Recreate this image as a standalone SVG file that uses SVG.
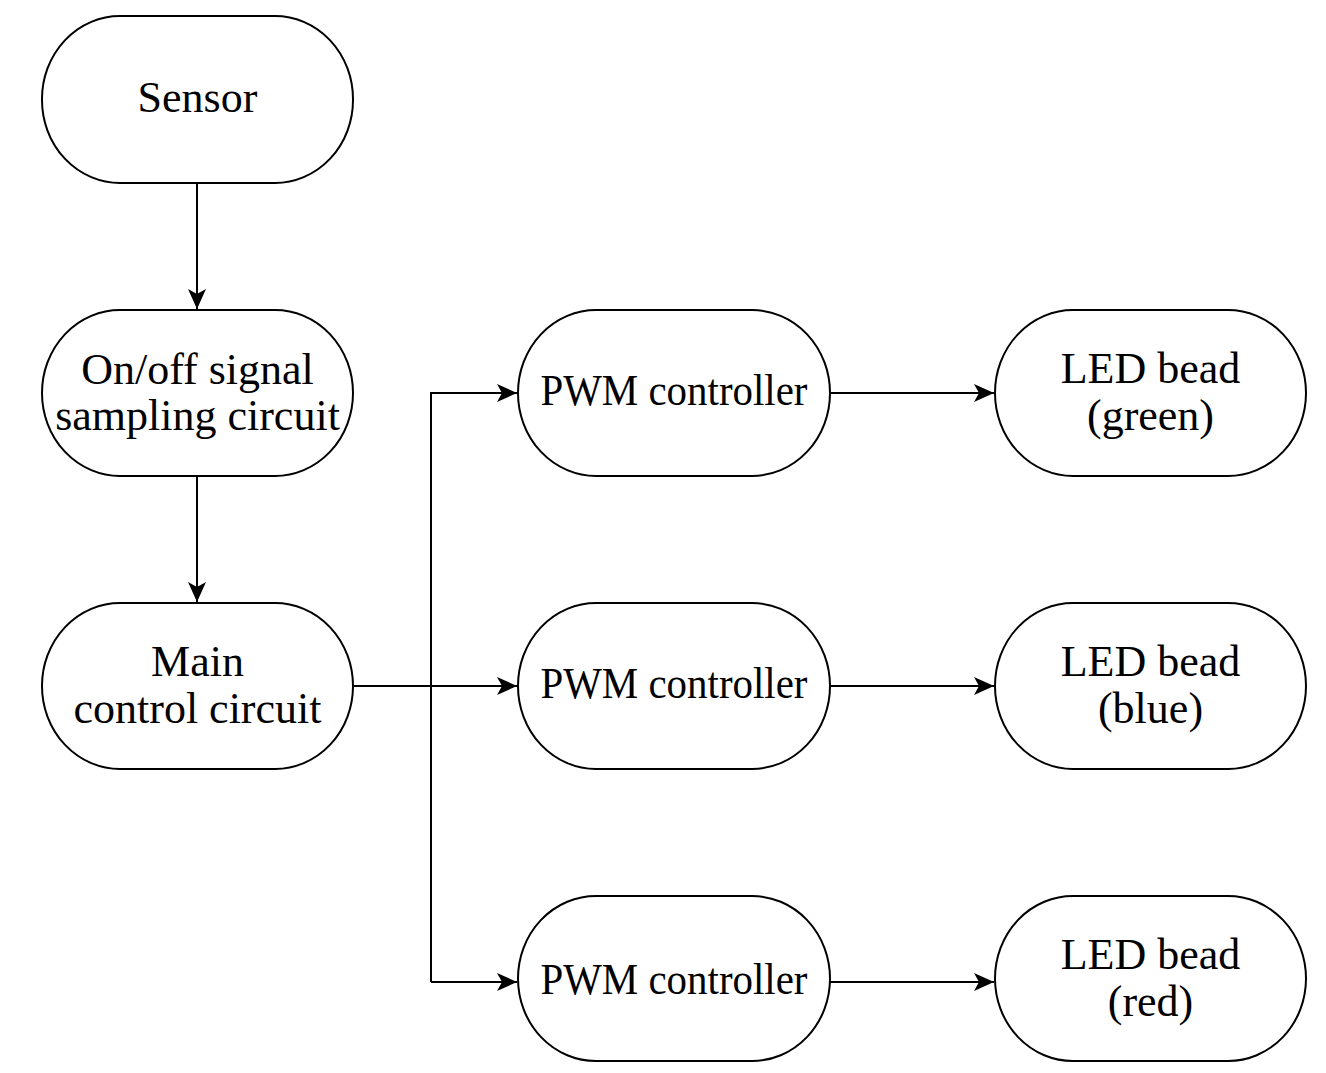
<svg xmlns="http://www.w3.org/2000/svg" width="1326" height="1073" viewBox="0 0 1326 1073">
<style>
.node rect{fill:#fff;stroke:#000;stroke-width:2}
.node text{font-family:"Liberation Serif","Times New Roman",serif;font-size:44px;fill:#000;text-anchor:middle}
.conn path{fill:none;stroke:#000;stroke-width:2}
</style>
<defs>
<marker id="arr" markerUnits="userSpaceOnUse" markerWidth="22" markerHeight="20" viewBox="0 0 22 20" refX="20" refY="10" orient="auto">
<path d="M0,1 L20,10 L0,19 L5,10 Z" fill="#000"/>
</marker>
</defs>
<rect width="1326" height="1073" fill="#fff"/>
<g id="connectors" class="conn">
<path d="M197,183 V309" marker-end="url(#arr)"/>
<path d="M197,476 V602" marker-end="url(#arr)"/>
<path d="M353,686 H517" marker-end="url(#arr)"/>
<path d="M431,982 V393 H517" marker-end="url(#arr)"/>
<path d="M431,982 H517" marker-end="url(#arr)"/>
<path d="M830,393 H994" marker-end="url(#arr)"/>
<path d="M830,686 H994" marker-end="url(#arr)"/>
<path d="M830,982 H994" marker-end="url(#arr)"/>
</g>
<g id="sensor" class="node"><rect x="42" y="16" width="311" height="167" rx="78" ry="83"/><text x="197.5" y="112">Sensor</text></g>
<g id="sampling" class="node"><rect x="42" y="310" width="311" height="166" rx="78" ry="83"/><text x="197.5" y="384">On/off signal</text><text x="197.5" y="430">sampling circuit</text></g>
<g id="main" class="node"><rect x="42" y="603" width="311" height="166" rx="78" ry="83"/><text x="197.5" y="676">Main</text><text x="197.5" y="723">control circuit</text></g>
<g id="pwm1" class="node"><rect x="518" y="310" width="312" height="166" rx="78" ry="83"/><text x="674" y="405" textLength="267" lengthAdjust="spacingAndGlyphs">PWM controller</text></g>
<g id="pwm2" class="node"><rect x="518" y="603" width="312" height="166" rx="78" ry="83"/><text x="674" y="698" textLength="267" lengthAdjust="spacingAndGlyphs">PWM controller</text></g>
<g id="pwm3" class="node"><rect x="518" y="896" width="312" height="165" rx="78" ry="82.5"/><text x="674" y="994" textLength="267" lengthAdjust="spacingAndGlyphs">PWM controller</text></g>
<g id="led-green" class="node"><rect x="995" y="310" width="311" height="166" rx="78" ry="83"/><text x="1150.5" y="383">LED bead</text><text x="1150.5" y="430">(green)</text></g>
<g id="led-blue" class="node"><rect x="995" y="603" width="311" height="166" rx="78" ry="83"/><text x="1150.5" y="676">LED bead</text><text x="1150.5" y="723">(blue)</text></g>
<g id="led-red" class="node"><rect x="995" y="896" width="311" height="165" rx="78" ry="82.5"/><text x="1150.5" y="969">LED bead</text><text x="1150.5" y="1016">(red)</text></g>
</svg>
